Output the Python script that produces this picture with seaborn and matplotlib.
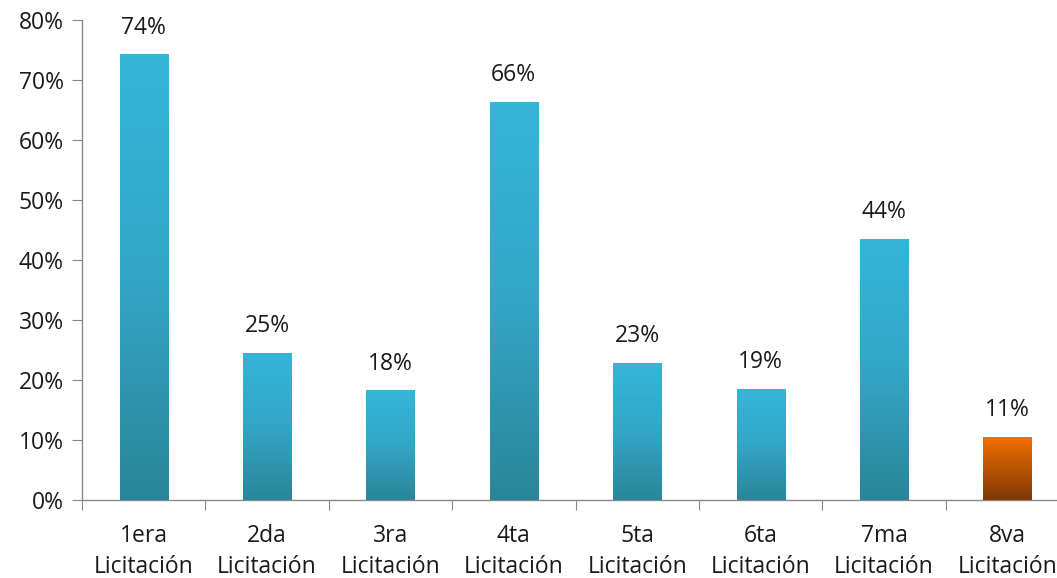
import numpy as np
import pandas as pd
import seaborn as sns
import matplotlib.pyplot as plt
from matplotlib.colors import LinearSegmentedColormap

categories = ["1era\nLicitación", "2da\nLicitación", "3ra\nLicitación", "4ta\nLicitación",
              "5ta\nLicitación", "6ta\nLicitación", "7ma\nLicitación", "8va\nLicitación"]
values = [0.742, 0.245, 0.182, 0.663, 0.228, 0.185, 0.435, 0.105]
labels = ["74%", "25%", "18%", "66%", "23%", "19%", "44%", "11%"]
is_last = [False, False, False, False, False, False, False, True]

sns.set_style("white")
plt.rcParams["font.family"] = ["Open Sans", "DejaVu Sans"]

df = pd.DataFrame({"cat": categories, "val": values})

fig = plt.figure(figsize=(10.57, 5.78), dpi=100)
ax = fig.add_axes([82 / 1057, 78 / 578, 987 / 1057, 480 / 578])

sns.barplot(data=df, x="cat", y="val", color="#35b4d9", width=0.39, ax=ax)

blue = LinearSegmentedColormap.from_list("b", ["#2a8599", "#33a6c6", "#35b5da"])
orange = LinearSegmentedColormap.from_list("o", ["#7e3806", "#f26f00"])
grad = np.linspace(0, 1, 256).reshape(-1, 1)

fs = 16.5
for bar, lab, last in zip(ax.patches, labels, is_last):
    x0, w, h = bar.get_x(), bar.get_width(), bar.get_height()
    bar.set_alpha(0)
    ax.imshow(grad, cmap=orange if last else blue, aspect="auto",
              extent=[x0, x0 + w, 0, h], origin="lower", zorder=3)
    ax.text(x0 + w / 2, h + 0.025, lab, ha="center", va="bottom", fontsize=fs, color="#1a1a1a")

ax.set_xlim(-0.5, 7.5)
ax.set_ylim(0, 0.8)
ax.set_yticks(np.arange(0, 0.81, 0.1))
ax.set_yticklabels([f"{int(round(t * 100))}%" for t in np.arange(0, 0.81, 0.1)], fontsize=fs, color="#1a1a1a")
ax.set_xticks(np.arange(-0.5, 7.6, 1), minor=False)
ax.set_xticklabels([])
ax.set_xticks(range(8), minor=True)
ax.set_xticklabels(categories, minor=True, fontsize=fs, color="#1a1a1a", linespacing=1.42)
ax.tick_params(axis="x", which="minor", length=0, pad=17)
ax.tick_params(axis="x", which="major", length=7, color="#888888", direction="out", bottom=True)
ax.tick_params(axis="y", length=7, color="#888888", direction="out", left=True, pad=6)
ax.set_xlabel("")
ax.set_ylabel("")

sns.despine(ax=ax, top=True, right=True)
for s in ["left", "bottom"]:
    ax.spines[s].set_color("#888888")
    ax.spines[s].set_linewidth(1)

fig.savefig("out.png", dpi=100)
